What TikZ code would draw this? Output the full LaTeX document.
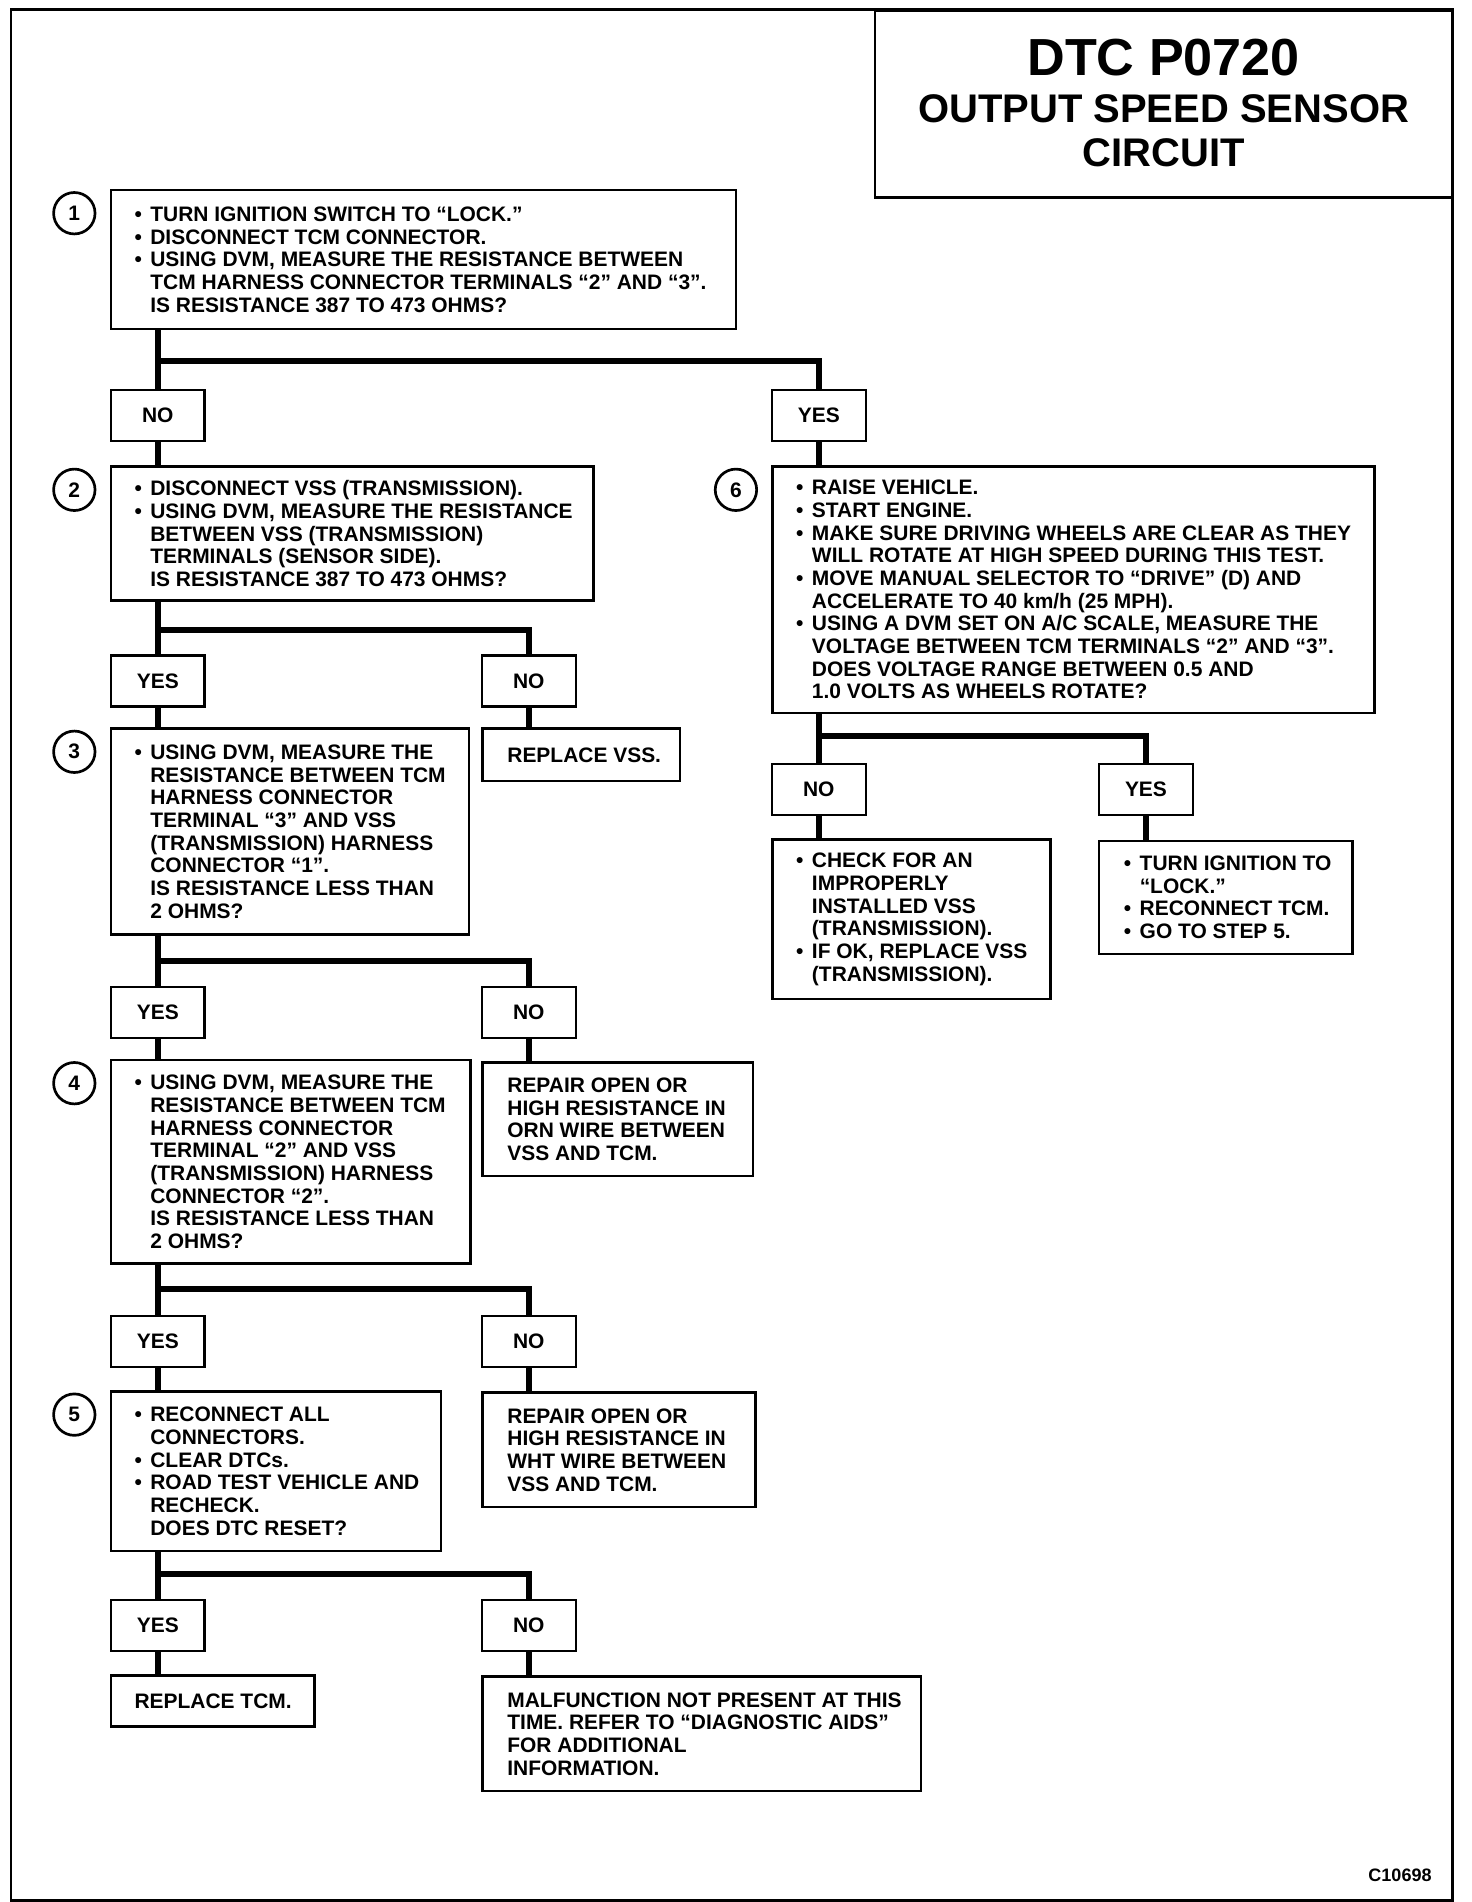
\documentclass[tikz,border=0pt]{standalone}
\usepackage{fontspec}
\setmainfont{Liberation Sans}
\newcommand\bodyfont{\fontsize{8.6pt}{9.3pt}\selectfont\bfseries}
\newcommand\Bul{\makebox[6.5pt][l]{\textbullet}}
\newcommand\Ind{\hspace*{6.5pt}}
\tikzset{
  box/.style={draw, line width=1pt, inner sep=0pt, outer sep=0pt},
  lbl/.style={box, minimum width=38.5pt, minimum height=21pt, font=\bodyfont},
  conn/.style={line width=2.5pt},
  txt/.style={inner sep=0pt, align=left, anchor=west, font=\bodyfont},
  num/.style={circle, draw, line width=1.1pt, minimum size=17pt, inner sep=0pt, font=\bodyfont},
}
\newcommand\mkbox[5]{\node[box, anchor=north west, minimum width={(#4-#2)*0.5pt}, minimum height={(#5-#3)*0.5pt}] (#1) at (#2,#3) {};}
\newcommand\mklbl[4]{\node[lbl] (#1) at (#2,#3) {#4};}
\begin{document}
\begin{tikzpicture}[x=0.5pt,y=-0.5pt]
\useasboundingbox (0,0) rectangle (1208,1561);
% outer frame
\draw[line width=1.2pt] (9,8) rectangle (1192,1560);
% title
\mkbox{ttl}{718}{9}{1192}{162}
\node[font=\fontsize{21.4pt}{24pt}\selectfont\bfseries, inner sep=0pt] (t1) at (955,47) {DTC P0720};
\node[font=\fontsize{16.4pt}{18pt}\selectfont\bfseries, inner sep=0pt] (t2) at (955,89) {OUTPUT SPEED SENSOR};
\node[font=\fontsize{16.4pt}{18pt}\selectfont\bfseries, inner sep=0pt] (t3) at (955,125) {CIRCUIT};
% step numbers
\node[num] (n1) at (61,175) {1};
\node[num] (n2) at (61,402) {2};
\node[num] (n3) at (61,617) {3};
\node[num] (n4) at (61,889) {4};
\node[num] (n5) at (61,1161) {5};
\node[num] (n6) at (604,402) {6};
% boxes
\mkbox{b1}{91}{156}{604}{270}
\mkbox{b2}{91}{383}{487}{493}
\mkbox{b6}{634}{383}{1128}{585}
\mkbox{b3}{91}{598}{385}{767}
\mkbox{rvss}{396}{598}{558}{641}
\mkbox{chk}{634}{689}{862}{820}
\mkbox{gostep}{902}{690}{1110}{783}
\mkbox{b4}{91}{870}{386}{1037}
\mkbox{rorn}{396}{872}{618}{965}
\mkbox{b5}{91}{1142}{362}{1273}
\mkbox{rwht}{396}{1143}{620}{1237}
\mkbox{rtcm}{91}{1375}{258}{1417}
\mkbox{mal}{396}{1376}{756}{1470}
% labels
\mklbl{no1}{129.5}{341}{NO}
\mklbl{yes1}{672}{341}{YES}
\mklbl{yes2}{129.5}{559}{YES}
\mklbl{no2}{434}{559}{NO}
\mklbl{no6}{672}{648}{NO}
\mklbl{yes6}{940.5}{648}{YES}
\mklbl{yes3}{129.5}{831}{YES}
\mklbl{no3}{434}{831}{NO}
\mklbl{yes4}{129.5}{1101}{YES}
\mklbl{no4}{434}{1101}{NO}
\mklbl{yes5}{129.5}{1334}{YES}
\mklbl{no5}{434}{1334}{NO}
% texts
\node[txt] (b1t) at ([xshift=9.5pt]b1.west) {\Bul TURN IGNITION SWITCH TO “LOCK.”\\
\Bul DISCONNECT TCM CONNECTOR.\\
\Bul USING DVM, MEASURE THE RESISTANCE BETWEEN\\
\Ind TCM HARNESS CONNECTOR TERMINALS “2” AND “3”.\\
\Ind IS RESISTANCE 387 TO 473 OHMS?};
\node[txt] (b2t) at ([xshift=9.5pt]b2.west) {\Bul DISCONNECT VSS (TRANSMISSION).\\
\Bul USING DVM, MEASURE THE RESISTANCE\\
\Ind BETWEEN VSS (TRANSMISSION)\\
\Ind TERMINALS (SENSOR SIDE).\\
\Ind IS RESISTANCE 387 TO 473 OHMS?};
\node[txt] (b6t) at ([xshift=9.5pt]b6.west) {\Bul RAISE VEHICLE.\\
\Bul START ENGINE.\\
\Bul MAKE SURE DRIVING WHEELS ARE CLEAR AS THEY\\
\Ind WILL ROTATE AT HIGH SPEED DURING THIS TEST.\\
\Bul MOVE MANUAL SELECTOR TO “DRIVE” (D) AND\\
\Ind ACCELERATE TO 40 km/h (25 MPH).\\
\Bul USING A DVM SET ON A/C SCALE, MEASURE THE\\
\Ind VOLTAGE BETWEEN TCM TERMINALS “2” AND “3”.\\
\Ind DOES VOLTAGE RANGE BETWEEN 0.5 AND\\
\Ind 1.0 VOLTS AS WHEELS ROTATE?};
\node[txt] (b3t) at ([xshift=9.5pt]b3.west) {\Bul USING DVM, MEASURE THE\\
\Ind RESISTANCE BETWEEN TCM\\
\Ind HARNESS CONNECTOR\\
\Ind TERMINAL “3” AND VSS\\
\Ind (TRANSMISSION) HARNESS\\
\Ind CONNECTOR “1”.\\
\Ind IS RESISTANCE LESS THAN\\
\Ind 2 OHMS?};
\node[txt] (rvsst) at ([xshift=10pt]rvss.west) {REPLACE VSS.};
\node[txt] (chkt) at ([xshift=9.5pt]chk.west) {\Bul CHECK FOR AN\\
\Ind IMPROPERLY\\
\Ind INSTALLED VSS\\
\Ind (TRANSMISSION).\\
\Bul IF OK, REPLACE VSS\\
\Ind (TRANSMISSION).};
\node[txt] (gostept) at ([xshift=10pt]gostep.west) {\Bul TURN IGNITION TO\\
\Ind “LOCK.”\\
\Bul RECONNECT TCM.\\
\Bul GO TO STEP 5.};
\node[txt] (b4t) at ([xshift=9.5pt]b4.west) {\Bul USING DVM, MEASURE THE\\
\Ind RESISTANCE BETWEEN TCM\\
\Ind HARNESS CONNECTOR\\
\Ind TERMINAL “2” AND VSS\\
\Ind (TRANSMISSION) HARNESS\\
\Ind CONNECTOR “2”.\\
\Ind IS RESISTANCE LESS THAN\\
\Ind 2 OHMS?};
\node[txt] (rornt) at ([xshift=10pt]rorn.west) {REPAIR OPEN OR\\
HIGH RESISTANCE IN\\
ORN WIRE BETWEEN\\
VSS AND TCM.};
\node[txt] (b5t) at ([xshift=9.5pt]b5.west) {\Bul RECONNECT ALL\\
\Ind CONNECTORS.\\
\Bul CLEAR DTCs.\\
\Bul ROAD TEST VEHICLE AND\\
\Ind RECHECK.\\
\Ind DOES DTC RESET?};
\node[txt] (rwhtt) at ([xshift=10pt]rwht.west) {REPAIR OPEN OR\\
HIGH RESISTANCE IN\\
WHT WIRE BETWEEN\\
VSS AND TCM.};
\node[txt] (rtcmt) at ([xshift=9.5pt]rtcm.west) {REPLACE TCM.};
\node[txt] (malt) at ([xshift=10pt]mal.west) {MALFUNCTION NOT PRESENT AT THIS\\
TIME. REFER TO “DIAGNOSTIC AIDS”\\
FOR ADDITIONAL\\
INFORMATION.};
% figure code
\node[font=\fontsize{7.4pt}{9pt}\selectfont\bfseries, inner sep=0pt] (code) at (1149,1539) {C10698};
% connectors
\coordinate (j1) at (129.5,296);
\draw[conn] (no1.north |- b1.south) -- (no1.north);
\draw[conn] (j1) -| (yes1.north);
\draw[conn] (no1.south) -- (no1.south |- b2.north);
\draw[conn] (yes1.south) -- (yes1.south |- b6.north);
\coordinate (j2) at (129.5,517);
\draw[conn] (yes2.north |- b2.south) -- (yes2.north);
\draw[conn] (j2) -| (no2.north);
\draw[conn] (yes2.south) -- (yes2.south |- b3.north);
\draw[conn] (no2.south) -- (no2.south |- rvss.north);
\coordinate (j6) at (672,604);
\draw[conn] (no6.north |- b6.south) -- (no6.north);
\draw[conn] (j6) -| (yes6.north);
\draw[conn] (no6.south) -- (no6.south |- chk.north);
\draw[conn] (yes6.south) -- (yes6.south |- gostep.north);
\coordinate (j3) at (129.5,789);
\draw[conn] (yes3.north |- b3.south) -- (yes3.north);
\draw[conn] (j3) -| (no3.north);
\draw[conn] (yes3.south) -- (yes3.south |- b4.north);
\draw[conn] (no3.south) -- (no3.south |- rorn.north);
\coordinate (j4) at (129.5,1058);
\draw[conn] (yes4.north |- b4.south) -- (yes4.north);
\draw[conn] (j4) -| (no4.north);
\draw[conn] (yes4.south) -- (yes4.south |- b5.north);
\draw[conn] (no4.south) -- (no4.south |- rwht.north);
\coordinate (j5) at (129.5,1292);
\draw[conn] (yes5.north |- b5.south) -- (yes5.north);
\draw[conn] (j5) -| (no5.north);
\draw[conn] (yes5.south) -- (yes5.south |- rtcm.north);
\draw[conn] (no5.south) -- (no5.south |- mal.north);
\end{tikzpicture}
\end{document}
